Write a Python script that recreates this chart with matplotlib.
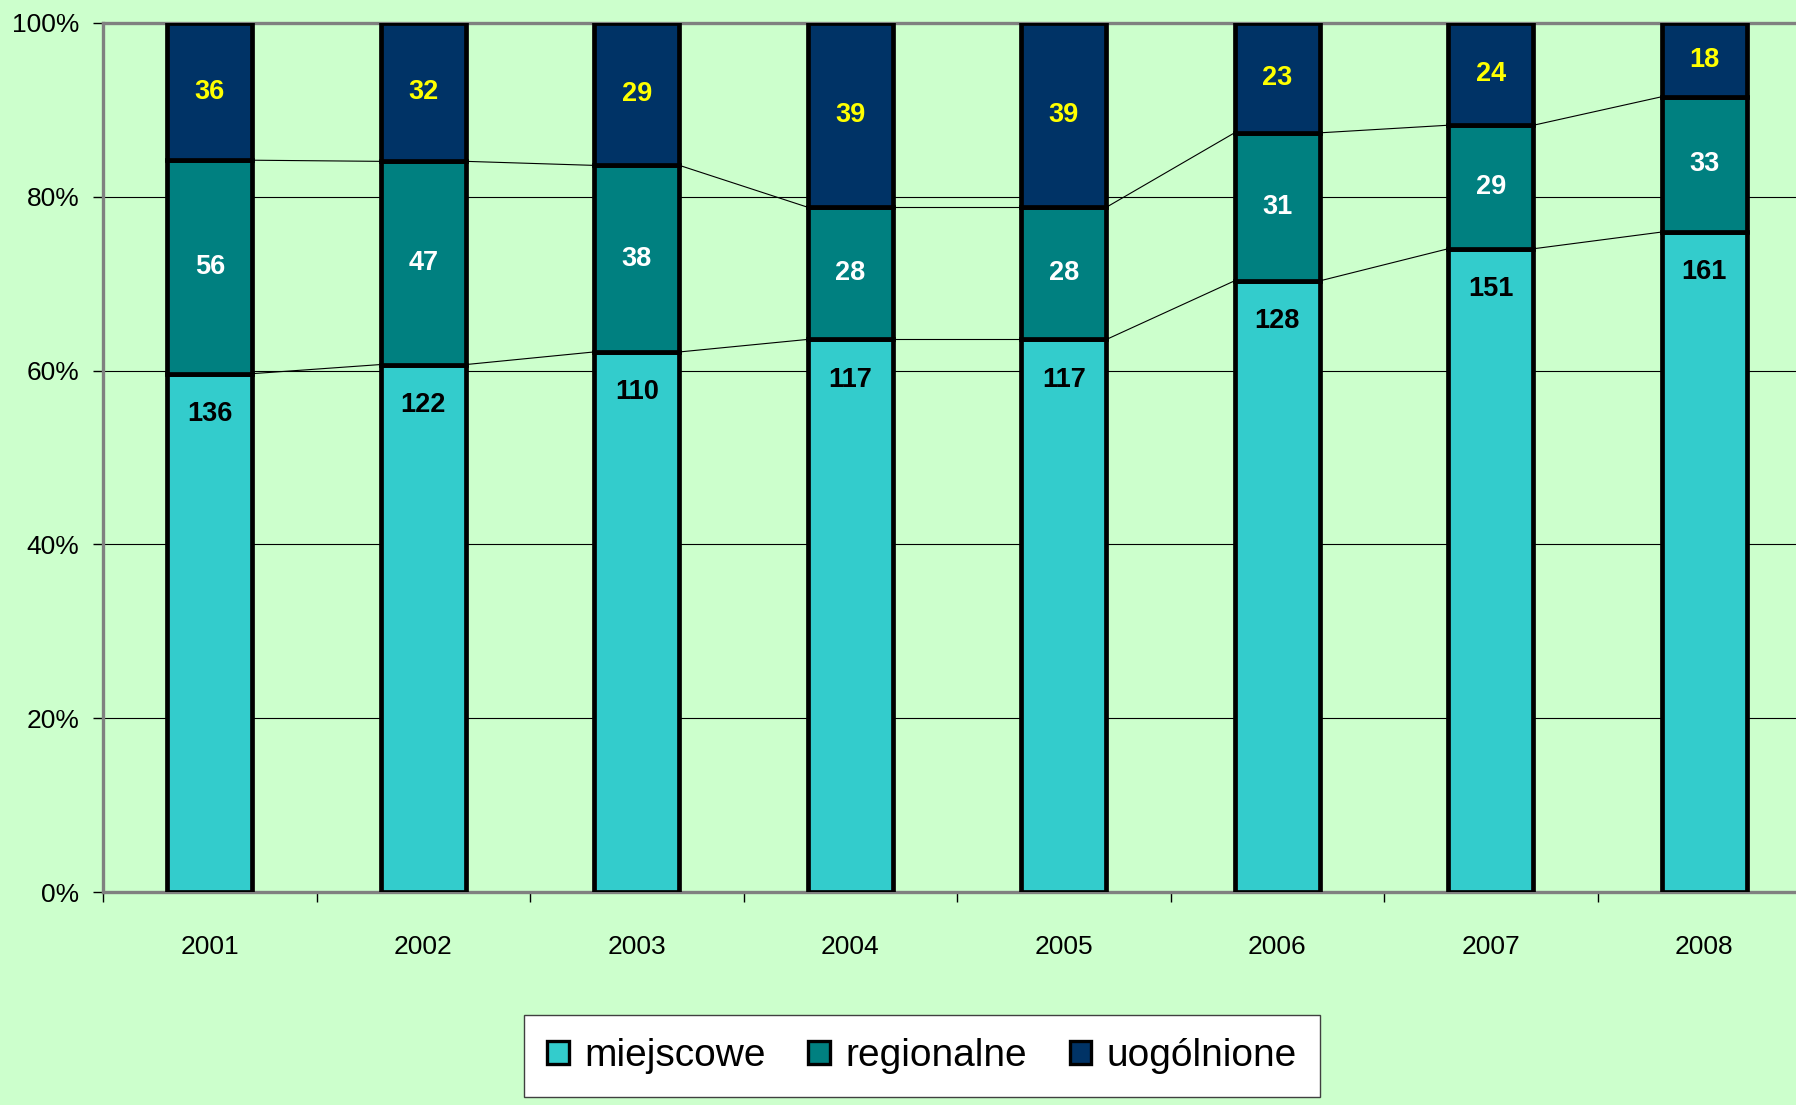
import numpy as np
import matplotlib.pyplot as plt
from matplotlib.patches import Patch

plt.rcParams['font.family'] = ['Liberation Sans', 'DejaVu Sans']

years = ['2001', '2002', '2003', '2004', '2005', '2006', '2007', '2008']
miejscowe = [136, 122, 110, 117, 117, 128, 151, 161]
regionalne = [56, 47, 38, 28, 28, 31, 29, 33]
uogolnione = [36, 32, 29, 39, 39, 23, 24, 18]
names = ['miejscowe', 'regionalne', 'uogólnione']
colors = ['#33CCCC', '#008080', '#003366']
label_colors = ['black', 'white', '#FFFF00']

counts = np.array([miejscowe, regionalne, uogolnione], dtype=float)
shares = counts / counts.sum(axis=0)
x = np.arange(len(years))
w = 0.4

fig = plt.figure(figsize=(17.96, 11.05), dpi=100)
fig.patch.set_facecolor('#CCFFCC')
ax = fig.add_axes([103/1796, 1-892/1105, 8*213.5/1796, 869/1105])
ax.set_facecolor('#CCFFCC')

bottom = np.zeros(len(years))
for k in range(3):
    ax.bar(x, shares[k], w, bottom=bottom, color=colors[k], edgecolor='black',
           linewidth=3.4, label=names[k], zorder=3)
    for i in range(len(years)):
        if k == 0:
            # miejscowe labels sit near the top of the segment
            ax.annotate(str(int(counts[k, i])), (x[i], bottom[i] + shares[k, i]),
                        xytext=(0, -29), textcoords='offset points', ha='center', va='center',
                        fontsize=19.5, fontweight='bold', color=label_colors[k], zorder=5)
        else:
            ax.text(x[i], bottom[i] + shares[k, i] / 2, str(int(counts[k, i])),
                    ha='center', va='center', fontsize=19.5, fontweight='bold',
                    color=label_colors[k], zorder=5)
    bottom = bottom + shares[k]

# series lines between bars
cum = np.cumsum(shares, axis=0)
for k in range(2):
    for i in range(len(years) - 1):
        ax.plot([x[i] + w/2, x[i+1] - w/2], [cum[k, i], cum[k, i+1]],
                color='black', linewidth=0.8, zorder=2)

ax.set_xlim(-0.5, len(years) - 0.5)
ax.set_ylim(0, 1)
ax.set_yticks(np.arange(0, 1.01, 0.2))
ax.set_yticklabels(['%d%%' % round(v*100) for v in np.arange(0, 1.01, 0.2)], fontsize=19)
ax.yaxis.grid(True, color='black', linewidth=0.8, zorder=0)
ax.set_xticks(x)
ax.set_xticklabels(years, fontsize=19)
ax.set_xticks(np.arange(-0.5, len(years)), minor=True)
ax.tick_params(axis='x', which='major', length=0, pad=31)
ax.tick_params(axis='x', which='minor', length=7, width=1, color='black')
ax.tick_params(axis='y', length=7, width=1, color='black', pad=10)

for s in ['left', 'bottom', 'top']:
    ax.spines[s].set_color('#808080')
    ax.spines[s].set_linewidth(2.4)
ax.spines['right'].set_visible(False)

handles = [Patch(facecolor=c, edgecolor='black', linewidth=2.4) for c in colors]
leg = fig.legend(handles, names, loc='center', bbox_to_anchor=(922/1796, 1-1056/1105),
                 ncol=3, fontsize=28, handlelength=0.55, handleheight=0.55,
                 handletextpad=0.4, columnspacing=1.1, borderpad=0.6,
                 fancybox=False, framealpha=1, edgecolor='#404040')
leg.get_frame().set_linewidth(1)

plt.savefig('out.png', dpi=100, facecolor=fig.get_facecolor())
